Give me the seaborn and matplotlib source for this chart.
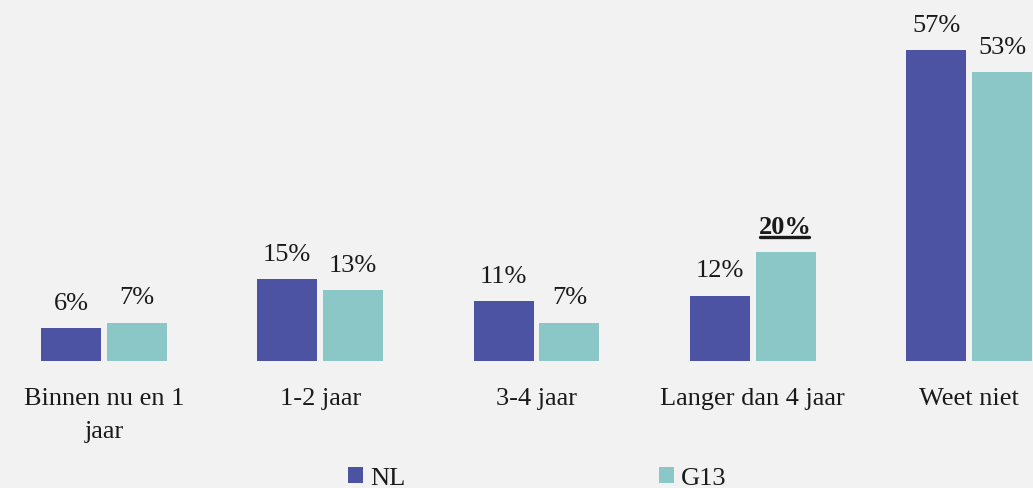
import matplotlib
matplotlib.use("Agg")
import matplotlib.pyplot as plt
from matplotlib.lines import Line2D
import pandas as pd
import seaborn as sns

categories = ["Binnen nu en 1\njaar", "1-2 jaar", "3-4 jaar", "Langer dan 4 jaar", "Weet niet"]
nl_values = [6, 15, 11, 12, 57]
g13_values = [7, 13, 7, 20, 53]
series_names = ["NL", "G13"]
highlight = ("G13", "Langer dan 4 jaar")

df = pd.DataFrame({
    "categorie": categories * 2,
    "reeks": [series_names[0]] * len(categories) + [series_names[1]] * len(categories),
    "waarde": nl_values + g13_values,
})

sns.set_theme(style="white")
plt.rcParams["font.family"] = ["Liberation Serif", "DejaVu Serif"]

bg = "#f2f2f2"
palette = {"NL": "#4c53a2", "G13": "#8cc7c8"}
text_color = "#1a1a1a"
fs = 19

fig = plt.figure(figsize=(10.33, 4.89), dpi=100, facecolor=bg)
ax = fig.add_axes([0.0, 127 / 489, 1.0, 362 / 489])
ax.set_facecolor(bg)

sns.barplot(data=df, x="categorie", y="waarde", hue="reeks", order=categories,
            hue_order=series_names, palette=palette, width=0.61, gap=0.09,
            saturation=1, linewidth=0, ax=ax, legend=True)

ax.set_xlim(-0.481, 4.296)
ax.set_ylim(0, 66.4)
ax.set_xlabel("")
ax.set_ylabel("")
ax.set_yticks([])
sns.despine(ax=ax, left=True, bottom=True)
ax.set_xticks(range(len(categories)))
ax.set_xticklabels(categories, linespacing=1.65)
ax.tick_params(axis="x", length=0, pad=19, labelsize=fs, labelcolor=text_color)

# value labels above each bar
underline_targets = []
for container, name in zip(ax.containers, series_names):
    for bar, cat, val in zip(container, categories, df[df["reeks"] == name]["waarde"]):
        x = bar.get_x() + bar.get_width() / 2
        bold = (name, cat) == highlight
        t = ax.annotate(f"{val}%", (x, bar.get_height()), xytext=(0, 14),
                        textcoords="offset points", ha="center", va="baseline",
                        fontsize=fs, color=text_color,
                        fontweight="bold" if bold else "normal")
        if bold:
            underline_targets.append(t)

# legend along the bottom
handles, labels = ax.get_legend_handles_labels()
ax.legend_.remove()
fig.legend(handles, labels, loc="lower center", bbox_to_anchor=(537 / 1033, -0.03),
           ncol=2, frameon=False, fontsize=fs, handlelength=0.57, handleheight=0.57,
           handletextpad=0.27, columnspacing=9.6, borderpad=0, labelcolor=text_color)

# underline for the emphasised label
fig.canvas.draw()
renderer = fig.canvas.get_renderer()
inv = fig.transFigure.inverted()
for t in underline_targets:
    bb = t.get_window_extent(renderer)
    x0, y0 = inv.transform((bb.x0 + 1, bb.y0 + 1))
    x1, _ = inv.transform((bb.x1 - 3, bb.y0 + 1))
    fig.add_artist(Line2D([x0, x1], [y0, y0], transform=fig.transFigure,
                          color=text_color, linewidth=2.4))

fig.savefig("out.png", dpi=100, facecolor=bg)
